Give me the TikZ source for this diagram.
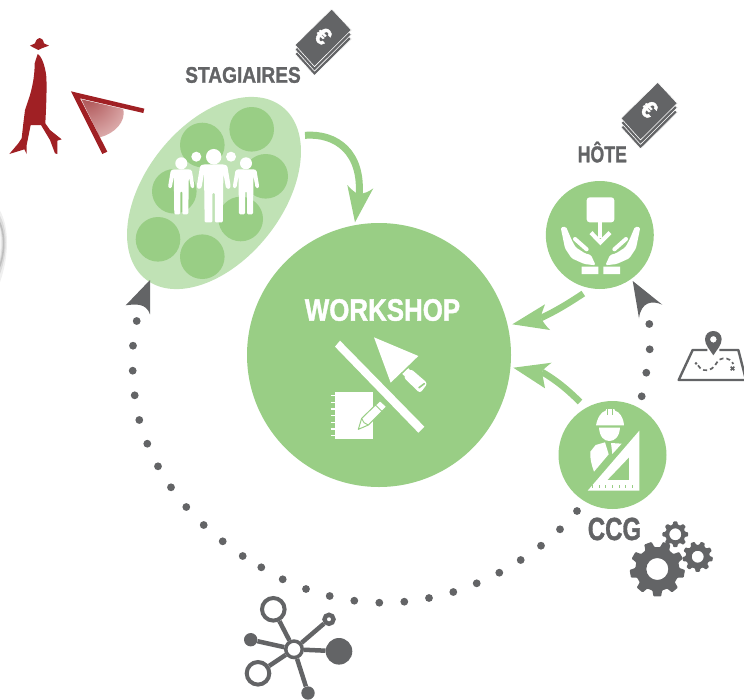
\documentclass[tikz,border=0pt]{standalone}
\usepackage{fontspec}
\usepackage{graphicx}
\usetikzlibrary{shapes.geometric}
\setmainfont{Liberation Sans}[BoldFeatures={FakeBold=1.4}]
\definecolor{gr}{RGB}{153,206,133}
\definecolor{lgr}{RGB}{192,226,181}
\definecolor{gg}{RGB}{99,100,102}
\definecolor{rd}{RGB}{160,32,36}
\definecolor{fanin}{RGB}{172,80,82}
\definecolor{fanmid}{RGB}{222,175,175}
\pgfdeclareradialshading{fan}{\pgfpoint{0bp}{0bp}}{color(0bp)=(fanin); color(25bp)=(fanmid); color(50bp)=(white)}
\tikzset{
  title/.style={anchor=base,text=gg,inner sep=0,font=\bfseries},
  bigdisc/.style={circle,fill=gr,inner sep=0,minimum size=#1},
  subdisc/.style={circle,fill=gr,inner sep=0,minimum size=44.6},
  flow/.style={draw=gr,line width=7},
  netring/.style={circle,draw=gg,fill=white,inner sep=0,line width=#1},
  netdot/.style={circle,fill=gg,inner sep=0,minimum size=#1},
  netedge/.style={draw=gg,line width=4.5},
  person/.pic={
    \fill[white,rounded corners=1.2] (-8,6) -- (-10.5,7) -- (-13,22) -- (-12.6,25) -- (-9.6,24.5) -- (-7.5,13)
      -- (-7,51) -- (-1,51) -- (-1,28) -- (1,28) -- (1,51) -- (7,51) -- (7.5,13)
      -- (9.6,24.5) -- (12.6,25) -- (13,22) -- (10.5,7) -- (8,6) -- cycle;
    \fill[white] (0,0) circle (6);
  }
}
\newcommand\moneystack[3]{%
  \foreach \o in {9,4.5,0}
    \filldraw[fill=gg,draw=white,line width=.6,line join=round] (#2,#3+\o) -- (#2+19.6,#3+21+\o) -- (#2-17.2,#3+57.6+\o) -- (#2-36.7,#3+36+\o) -- cycle;
  \node[rotate=-45,text=white,inner sep=0,font=\bfseries\fontsize{24}{24}\selectfont] (#1) at (#2-8.5,#3+27) {€};
}
\newcommand\gearshape[7]{%
  \begin{scope}[shift={(#1,#2)}]
    \pgfmathsetmacro\st{360/#6}
    \fill[gg,even odd rule,rounded corners=.8] ({#7-.5*\st}:#4)
      foreach \i in {1,...,#6} {
        -- ({#7+(\i-1)*\st-.32*\st}:#4) -- ({#7+(\i-1)*\st-.2*\st}:#3)
        -- ({#7+(\i-1)*\st+.2*\st}:#3) -- ({#7+(\i-1)*\st+.32*\st}:#4)
      } -- cycle (0,0) circle (#5);
  \end{scope}
}
\newcommand\handshape{%
  \fill[white,rounded corners=1.5] (17,112) -- (33,110) -- (50,150) -- (62,172) -- (90,190) -- (108,195) -- (122,226) -- (88,222) -- (50,205) -- (30,175) -- cycle;
  \draw[white,line width=4,line cap=round] (60,147) -- (95,178);
}
\begin{document}
\begin{tikzpicture}[x=1pt,y=-1pt]
\useasboundingbox (0,0) rectangle (744,699);

% --- red figure and fan
\begin{scope}[shift={(0,30)},x=.33333pt,y=-.33333pt]
  \begin{scope}
    \clip (244,208) -- (370,237) .. controls (378,275) and (345,310) .. (300,322) -- cycle;
    \shade[shading=fan] (262,200) circle (135);
  \end{scope}
  \fill[rd] (90,47) -- (105,40) .. controls (108,28) and (115,24) .. (119,24) .. controls (125,24) and (130,30) .. (132,40) -- (147,47) -- (125,55) -- (115,60) -- (105,55) -- cycle;
  \fill[rd] (113,72) .. controls (125,78) and (136,110) .. (139,140) .. controls (141,180) and (138,240) .. (136,280)
    -- (150,300) -- (185,328) -- (172,332) -- (172,372) -- (165,370) -- (150,330) -- (123,285) -- (92,285) -- (80,345) -- (80,372) -- (73,358) -- (28,372)
    -- (55,340) -- (65,325) -- (70,280) -- (75,240) -- (90,195) .. controls (100,160) and (104,130) .. (104,100) -- cycle;
  \fill[rd] (213,184) -- (433,236) -- (430,249) -- (240,205) -- (322,365) -- (307,372) -- cycle;
\end{scope}

% --- blurred arc at the left edge
\draw[gray!12,line width=6.5] (-3,212) .. controls (6,228) and (6,255) .. (-3,281);
\draw[gray!28,line width=4] (-3,215) .. controls (6,228) and (6,255) .. (-3,276);
\draw[gray!50,line width=1.6] (-3,218) .. controls (5.5,230) and (5.5,252) .. (-1,268);

% --- trainees
\node[ellipse,fill=lgr,inner sep=0,minimum width=220,minimum height=137,rotate=51.5] (stag) at (214,193) {};
\foreach \n/\x/\y in {a/251.7/129.3,b/202.3/145,c/265.7/176.3,d/174.3/191.3,e/240.7/219,f/158/239.3,g/202.3/256.7}
  \node[subdisc] (s\n) at (\x,\y) {};
\fill[white] (196.3,156.7) circle (5) (231,156.7) circle (5);
\pic at (181.3,163.3) {person};
\pic at (246,163.3) {person};
\pic[scale=1.29] at (213.7,156.7) {person};

% --- main discs
\node[bigdisc=264] (workshop) at (379,355) {};
\node[bigdisc=108] (hote) at (599.8,235) {};
\node[bigdisc=108] (ccg) at (612.5,455) {};

% --- titles
\node[title] (tstag) at (243,82.7) {\fontsize{22.5}{22.5}\selectfont\scalebox{.85}[1]{STAGIAIRES}};
\node[title] (thote) at (602.3,162.3) {\fontsize{23}{23}\selectfont\scalebox{.77}[1]{HÔTE}};
\node[title] (tccg) at (614.5,540) {\fontsize{32}{32}\selectfont\scalebox{.75}[1]{CCG}};
\node[title,text=white] (tws) at (382.5,320.7) {\fontsize{31}{31}\selectfont\scalebox{.835}[1]{WORKSHOP}};

% --- money
\moneystack{eurostag}{331.7}{9}
\moneystack{eurohote}{657.7}{82.3}

% --- green connectors
\coordinate (f1a) at (305,135.3);
\coordinate (f1b) at (359,197);
\coordinate (f2a) at (583.3,293.5);
\coordinate (f2b) at (541,318);
\coordinate (f3a) at (580,402);
\coordinate (f3b) at (542,372);
\draw[flow] (f1a) .. controls (336,133) and (363,152) .. (f1b);
\fill[gr] (355,222.3) -- (347.3,185) .. controls (351,189) and (354,192) .. (358,194) .. controls (364,194) and (369,191.5) .. (373.3,188.3) -- cycle;
\draw[flow,line width=6.5] (f2a) .. controls (569,303) and (556,311) .. (f2b);
\fill[gr] (512.3,324.3) -- (545,304.3) .. controls (543,310) and (541,314) .. (541,318) .. controls (543,322) and (546,326) .. (550,330) -- cycle;
\draw[flow,line width=6.5] (f3a) .. controls (568,390) and (556,380) .. (f3b);
\fill[gr] (513.3,367.7) -- (551.7,362.7) .. controls (547,366) and (544,369) .. (541.7,371.7) .. controls (543,377) and (544,383) .. (545,388.3) -- cycle;

% --- workshop icon
\begin{scope}[shift={(290,280)},x=.33333pt,y=-.33333pt]
  \fill[white] (150,182) -- (135,200) -- (385,458) -- (403,440) -- cycle;
  \fill[white] (252,172) -- (385,228) -- (302,308) -- cycle;
  \draw[white,line width=3] (340,285) -- (358,268);
  \fill[white,rounded corners=3] (340,291) -- (362,266) -- (413,310) -- (390,340) -- cycle;
  \draw[gr,line width=1.6,line cap=round] (387,323) -- (403,311);
  \fill[white] (136,335) rectangle (248,478);
  \foreach \y in {347,367,387,407,427,447,467}
    \draw[white,line width=1.5] (122,\y) -- (136,\y);
  \filldraw[fill=white,draw=gr,line width=1,line join=round] (205,448) -- (215,415) -- (270,362) -- (290,380) -- (235,435) -- cycle;
  \draw[gr,line width=.9] (215,415) -- (222,428) -- (235,435);
  \draw[gr,line width=.9] (256,375) -- (277,395);
\end{scope}

% --- hands icon
\begin{scope}[shift={(555,190)},x=.33333pt,y=-.33333pt]
  \fill[white,rounded corners=3] (95,22) rectangle (178,97);
  \fill[white] (130,97) rectangle (142,145);
  \draw[white,line width=4.2,miter limit=4] (108,128) -- (136,157) -- (165,128);
  \handshape
  \begin{scope}[shift={(273,0)},xscale=-1]
    \handshape
  \end{scope}
  \fill[white] (80,230) rectangle (130,252) (145,230) rectangle (195,252);
\end{scope}

% --- engineer icon
\begin{scope}[shift={(575,400)},x=.33333pt,y=-.33333pt]
  \fill[white] (63,76) .. controls (68,50) and (80,35) .. (92,32) -- (94,27) -- (118,27) -- (120,32) .. controls (132,35) and (145,50) .. (147,76) -- cycle;
  \draw[gr,line width=.8] (97,28) -- (97,45) (113,28) -- (113,45);
  \fill[white] (72,83) -- (135,83) .. controls (133,112) and (118,123) .. (103,123) .. controls (88,123) and (74,112) .. (72,83) -- cycle;
  \fill[white] (62,135) -- (90,127) -- (101,163) -- (57,215) .. controls (50,195) and (44,175) .. (46,155) -- cycle;
  \fill[white] (108,129) -- (140,131) -- (112,162) -- cycle;
  \fill[white,even odd rule] (193,92) -- (193,272) -- (38,272) -- cycle (162,172) -- (162,240) -- (97,240) -- cycle;
  \foreach \x in {52,72,92,112,132,152,172}
    \draw[gr,line width=1] (\x,256) -- (\x,265);
\end{scope}

% --- map icon
\begin{scope}[shift={(670,320)},x=.33333pt,y=-.33333pt]
  \draw[gg,line width=2.4,line join=round] (112,90) -- (68,90) -- (26,180) -- (228,180) -- (205,90) -- (148,90);
  \fill[gg,even odd rule] (130,106) .. controls (120,90) and (105,75) .. (105,58) .. controls (105,42) and (117,33) .. (130,33) .. controls (143,33) and (155,42) .. (155,58) .. controls (155,75) and (140,90) .. (130,106) -- cycle (130,58) circle (10);
  \fill[gg] (78,130) circle (4.5);
  \draw[gg,line width=1.7,dash pattern=on 4 off 3] (84,136) .. controls (92,152) and (110,155) .. (125,146) .. controls (140,138) and (140,115) .. (160,115) .. controls (175,114) and (185,122) .. (190,132);
  \draw[gg,line width=1.6] (182,140) -- (193,151) (193,140) -- (182,151);
\end{scope}

% --- gears
\gearshape{657.3}{569}{27.7}{22}{11}{9}{10}
\gearshape{675.3}{534.3}{13}{10}{6}{8}{0}
\gearshape{697.7}{556.7}{15.3}{12}{6}{9}{10}

% --- dotted circuit
\foreach \x/\y in {136.7/321,133/345.7,132.7/370.7,134.7/395.3,139.3/420,147.3/443.7,158/466.3,171/487.3,186.3/507,203.7/525,222.7/541.3,242.7/556,261.3/567.3,282.7/579.3,306/589,329.7/596,354.3/600.7,379.3/602.7,404.3/601.7,429/598,453.3/592,476.7/583.3,499.3/572.7,520.7/560,541/545.7,560/529.3,577/511,641.7/396.3,646.3/372.7,649.7/349.3,649.3/324}
  \fill[gg] (\x,\y) circle (3.9);
\fill[gg] (150,280) -- (125.7,305.3) .. controls (136,304) and (146,303) .. (150,314.3) -- cycle;
\fill[gg] (632.7,281) -- (662.3,304.7) .. controls (652,300) and (641,302) .. (639,318.3) -- cycle;

% --- network icon
\node[netring=3.5,minimum size=16.5] (hub) at (294,649.3) {};
\node[netring=4,minimum size=22.6] (ntl) at (273.3,609.3) {};
\node[netring=4,minimum size=22.6] (nbl) at (258,673.3) {};
\node[netring=4.4,minimum size=9] (ntr) at (329,619.3) {};
\node[netdot=13.4] (nl) at (250.7,639.7) {};
\node[netdot=13.4] (nb) at (308,693) {};
\node[netdot=26.6] (nr) at (339,651.3) {};
\foreach \n in {ntl,nbl,ntr,nl,nb,nr}
  \draw[netedge] (hub) -- (\n);
\end{tikzpicture}
\end{document}
